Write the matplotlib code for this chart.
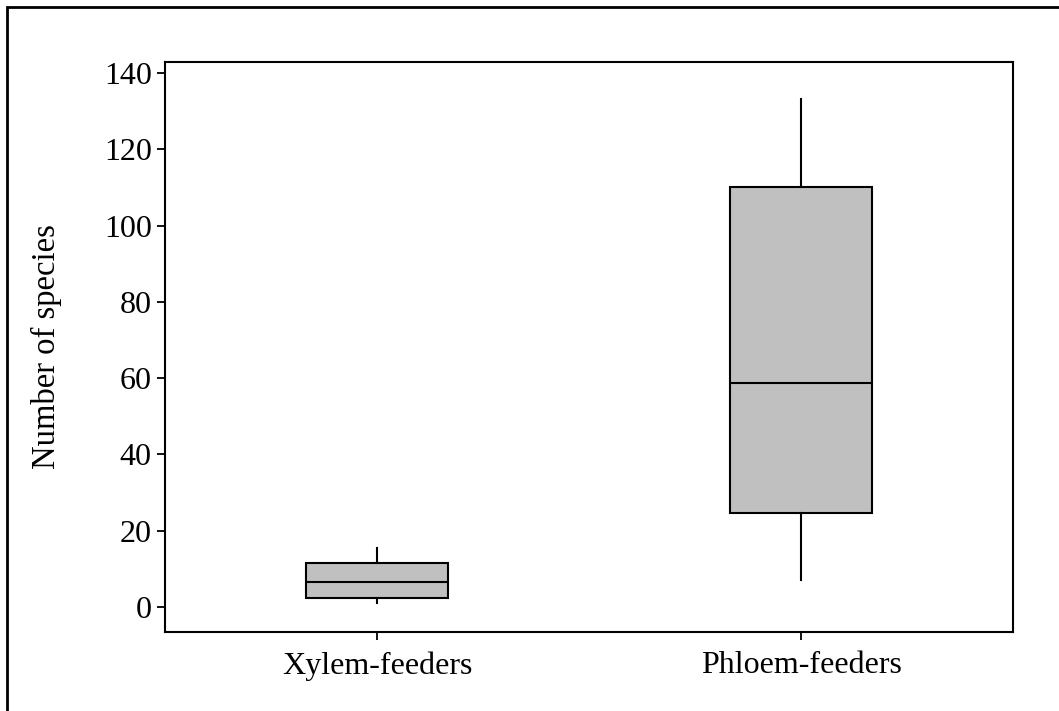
import matplotlib.pyplot as plt
from matplotlib.patches import Rectangle

# five-number summaries per feeding guild
groups = ["Xylem-feeders", "Phloem-feeders"]
whisker_low = [1.0, 7.0]
q1 = [2.4, 24.6]
median = [6.5, 58.7]
q3 = [11.5, 110.0]
whisker_high = [15.5, 133.1]

plt.rcParams["font.family"] = ["Liberation Serif", "DejaVu Serif"]

fig = plt.figure(figsize=(10.59, 7.11), dpi=100)
ax = fig.add_axes([0.1558, 0.1111, 0.8008, 0.8017])

stats = []
for name, lo, a, m, b, hi in zip(groups, whisker_low, q1, median, q3, whisker_high):
    stats.append({"label": name, "whislo": lo, "q1": a, "med": m, "q3": b, "whishi": hi, "fliers": []})

ax.bxp(
    stats,
    positions=[1, 2],
    widths=0.333,
    showcaps=False,
    showfliers=False,
    patch_artist=True,
    boxprops=dict(facecolor="#c0c0c0", edgecolor="black", linewidth=1.5),
    medianprops=dict(color="black", linewidth=1.5),
    whiskerprops=dict(color="black", linewidth=1.5),
)

ax.set_xlim(0.5, 2.5)
ax.set_ylim(-6.6, 142.9)
ax.set_yticks(range(0, 141, 20))
ax.set_ylabel("Number of species", fontsize=23.5, labelpad=30)
ax.tick_params(axis="both", labelsize=23, length=6, width=1.3, direction="out")
ax.tick_params(axis="x", pad=8)
for spine in ax.spines.values():
    spine.set_linewidth(1.5)

# border around the whole figure, running off the right and bottom edges
fig.patches.append(
    Rectangle((7 / 1059, -0.1), 1.2, 1.1 - 7 / 711, transform=fig.transFigure,
              fill=False, edgecolor="black", linewidth=2.0, clip_on=False)
)

fig.savefig("out.png", dpi=100)
